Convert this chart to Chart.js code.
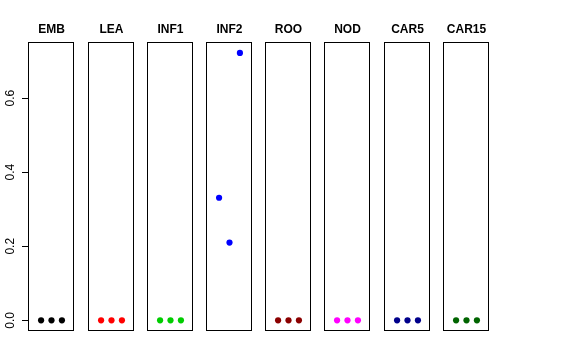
<!DOCTYPE html>
<html>
<head>
<meta charset="utf-8">
<script src="https://cdn.jsdelivr.net/npm/chart.js@4/dist/chart.umd.min.js"></script>
<style>
  html, body { margin: 0; padding: 0; background: #ffffff; }
  #wrap { position: relative; width: 576px; height: 360px; overflow: hidden; background: #fff; }
  #wrap canvas { position: absolute; top: 0; }
</style>
</head>
<body>
<div id="wrap"></div>
<script>
// ---- data ----
const panelNames = ['EMB', 'LEA', 'INF1', 'INF2', 'ROO', 'NOD', 'CAR5', 'CAR15'];
const xPositions = [1, 2, 3];
const embValues   = [0, 0, 0];
const leaValues   = [0, 0, 0];
const inf1Values  = [0, 0, 0];
const inf2Values  = [0.331, 0.21, 0.722];
const rooValues   = [0, 0, 0];
const nodValues   = [0, 0, 0];
const car5Values  = [0, 0, 0];
const car15Values = [0, 0, 0];
const yTickValues = [0, 0.2, 0.4, 0.6];
const panelColors = ['#000000', '#FF0000', '#00CD00', '#0000FF', '#8B0000', '#FF00FF', '#00008B', '#006400'];

const panelValues = [embValues, leaValues, inf1Values, inf2Values, rooValues, nodValues, car5Values, car15Values];

// ---- layout ----
const FONT = '"Liberation Sans", Arial, Helvetica, sans-serif';
const dataMax = 0.72, dataMin = 0;
const pad = (dataMax - dataMin) * 0.04;
const xMin = 0 - 4 * 0.04, xMax = 4 + 4 * 0.04;

const boxPlugin = {
  id: 'panelBox',
  afterDraw(chart) {
    const a = chart.chartArea;
    const ctx = chart.ctx;
    ctx.save();
    ctx.strokeStyle = '#000000';
    ctx.lineWidth = 1;
    const l = Math.round(a.left) - 0.5, r = Math.round(a.right) - 0.5;
    const t = Math.round(a.top) - 0.5, b = Math.round(a.bottom) - 0.5;
    ctx.strokeRect(l, t, r - l, b - t);
    ctx.restore();
  }
};

const wrap = document.getElementById('wrap');
panelNames.forEach((name, i) => {
  const cv = document.createElement('canvas');
  cv.width = 80; cv.height = 360;
  cv.style.left = Math.round(59.2 * i + 0.3) + 'px';
  cv.style.width = '80px'; cv.style.height = '360px';
  wrap.appendChild(cv);
  const first = i === 0;
  new Chart(cv.getContext('2d'), {
    type: 'scatter',
    data: {
      datasets: [{
        label: name,
        data: xPositions.map((x, k) => ({ x: x, y: panelValues[i][k] })),
        backgroundColor: panelColors[i],
        borderColor: panelColors[i],
        borderWidth: 0,
        pointRadius: 3.1,
        pointHoverRadius: 3.1
      }]
    },
    options: {
      responsive: false,
      animation: false,
      events: [],
      layout: { padding: { left: first ? 0 : 29, right: 6, top: 0, bottom: 29 } },
      plugins: {
        legend: { display: false },
        tooltip: { enabled: false },
        title: {
          display: true,
          fullSize: false,
          text: name,
          color: '#000000',
          font: { family: FONT, size: 12, weight: 'bold', lineHeight: 1.2 },
          padding: { top: 22.3, bottom: 6.3 }
        }
      },
      scales: {
        x: {
          type: 'linear',
          min: xMin, max: xMax,
          display: false
        },
        y: {
          type: 'linear',
          min: dataMin - pad, max: dataMax + pad,
          display: first,
          afterFit(scale) { if (first) scale.width = 29; },
          afterBuildTicks(scale) { scale.ticks = yTickValues.map(v => ({ value: v })); },
          border: { display: false },
          grid: {
            display: true,
            drawOnChartArea: false,
            drawTicks: true,
            tickLength: 7,
            color: '#000000',
            lineWidth: 1
          },
          ticks: {
            color: '#000000',
            font: { family: FONT, size: 12 },
            minRotation: 90,
            maxRotation: 90,
            crossAlign: 'center',
            padding: 3,
            callback: v => Number(v).toFixed(1)
          }
        }
      }
    },
    plugins: [boxPlugin]
  });
});
</script>
</body>
</html>
